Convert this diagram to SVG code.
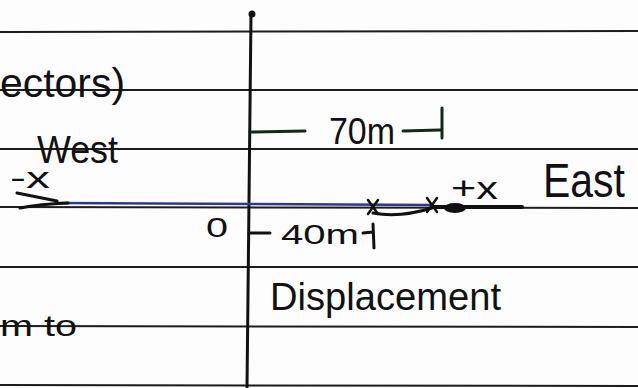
<svg xmlns="http://www.w3.org/2000/svg" width="638" height="388" viewBox="0 0 638 388">
<style>
.rule{stroke:#1c1c1c;stroke-width:2;fill:none}
.ink{stroke:#111;stroke-width:3;fill:none;stroke-linecap:round;stroke-linejoin:round}
.green{stroke:#10291a;stroke-width:3;fill:none;stroke-linecap:round}
.blue{stroke:#2b3a8f;stroke-width:2.5;fill:none}
text{font-family:"Liberation Sans","DejaVu Sans",sans-serif;fill:#111}
</style>
<rect width="638" height="388" fill="#fdfdfd"/>
<g id="ruled-lines">
<line class="rule" x1="0" y1="32" x2="638" y2="31"/>
<line class="rule" x1="0" y1="90" x2="638" y2="90"/>
<line class="rule" x1="0" y1="149" x2="638" y2="149"/>
<line class="rule" x1="0" y1="207" x2="638" y2="208"/>
<line class="rule" x1="0" y1="267" x2="638" y2="267"/>
<line class="rule" x1="0" y1="326" x2="638" y2="327"/>
<line class="rule" x1="0" y1="385" x2="638" y2="386"/>
</g>
<g id="connectors">
<line class="ink" x1="251" y1="14" x2="247" y2="388"/>
<circle cx="252" cy="14" r="3.5" fill="#111"/>
<line class="blue" x1="58" y1="203" x2="432" y2="205"/>
<path class="ink" d="M17,193 L57,201 M20,208 Q40,204 68,203"/>
<path class="ink" d="M373,213 Q400,218 432,208"/>
<path class="ink" d="M432,207 L522,207" style="stroke-width:4"/>
<ellipse cx="455" cy="208" rx="11" ry="5" fill="#111"/>
<path class="ink" d="M368,200 L378,214 M378,200 L368,214" style="stroke-width:2.5"/>
<path class="ink" d="M427,198 L437,212 M437,198 L427,212" style="stroke-width:2.5"/>
<path class="green" d="M250,132 L305,131 M403,131 L440,130 M442,108 L442,138"/>
<path class="ink" d="M249,233 L270,233 M363,233 L373,232 M373,224 L374,248"/>
</g>
<g id="labels">
<text x="0" y="97" font-size="40" textLength="125" lengthAdjust="spacingAndGlyphs">ectors)</text>
<text x="37" y="163" font-size="38" textLength="81" lengthAdjust="spacingAndGlyphs">West</text>
<text x="10" y="188" font-size="30" textLength="40" lengthAdjust="spacingAndGlyphs">-x</text>
<text x="206" y="237" font-size="27" textLength="22" lengthAdjust="spacingAndGlyphs">0</text>
<text x="281" y="244" font-size="28" textLength="78" lengthAdjust="spacingAndGlyphs">40m</text>
<text x="329" y="144" font-size="36" textLength="66" lengthAdjust="spacingAndGlyphs" fill="#10291a">70m</text>
<text x="451" y="199" font-size="32" textLength="47" lengthAdjust="spacingAndGlyphs">+x</text>
<text x="543" y="197" font-size="48" textLength="82" lengthAdjust="spacingAndGlyphs">East</text>
<text x="270" y="310" font-size="38" textLength="231" lengthAdjust="spacingAndGlyphs">Displacement</text>
<text x="0" y="336" font-size="30" textLength="77" lengthAdjust="spacingAndGlyphs">m to</text>
</g>
</svg>
